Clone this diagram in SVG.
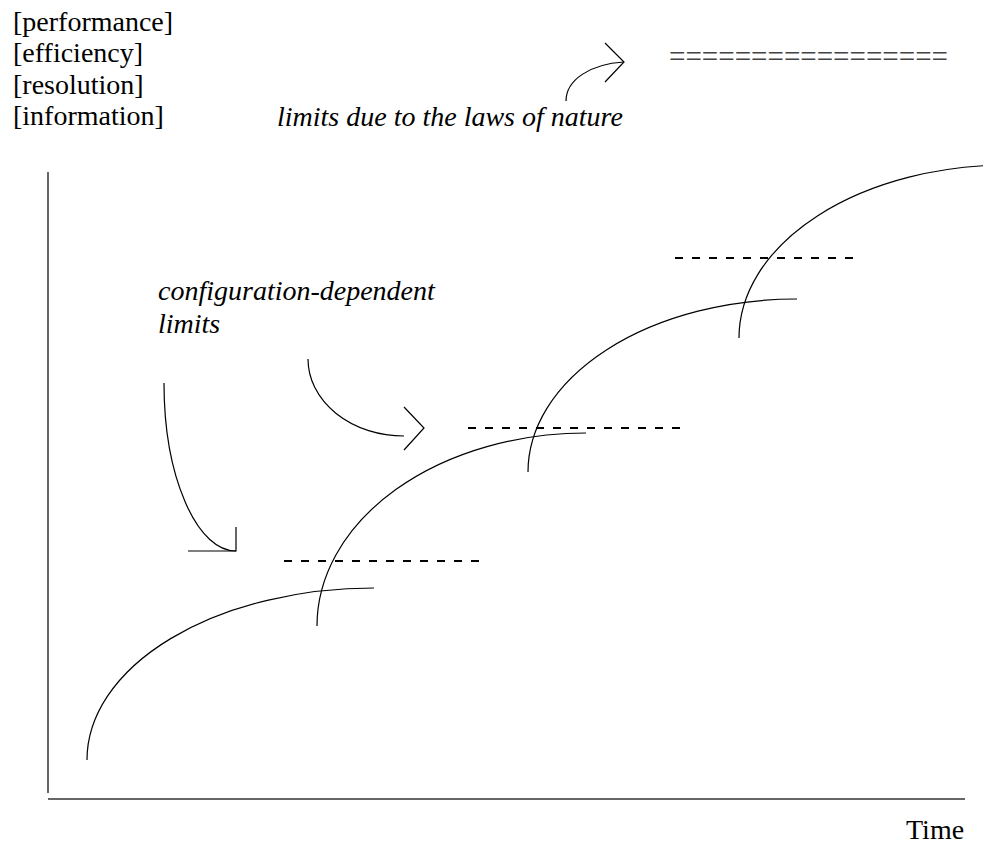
<svg xmlns="http://www.w3.org/2000/svg" width="983" height="848" viewBox="0 0 983 848">
<style>
.t{font-family:"Liberation Serif","Times New Roman",serif;font-size:28px;fill:#000}
.i{font-style:italic}
.ln{fill:none;stroke:#000;stroke-width:1.2}
.ax{fill:none;stroke:#333;stroke-width:1.5}
.ds{fill:none;stroke:#000;stroke-width:2;stroke-dasharray:8 9}
</style>
<rect width="983" height="848" fill="#fff"/>
<g id="ylabel">
<text class="t" x="13" y="31">[performance]</text>
<text class="t" x="13" y="62.3">[efficiency]</text>
<text class="t" x="13" y="93.7">[resolution]</text>
<text class="t" x="13" y="125">[information]</text>
</g>
<g id="nature-label"><text class="t i" x="277" y="126">limits due to the laws of nature</text></g>
<g id="nature-limit"><text class="t" x="669" y="66.5" textLength="279" lengthAdjust="spacingAndGlyphs" style="fill:#444;font-size:32px">=================</text></g>
<g id="config-label">
<text class="t i" x="158" y="300">configuration-dependent</text>
<text class="t i" x="158" y="333">limits</text>
</g>
<g id="xlabel"><text class="t" x="906" y="839">Time</text></g>
<g id="axes">
<line class="ax" x1="48" y1="172" x2="48" y2="793"/>
<line class="ax" x1="48" y1="799" x2="965" y2="799"/>
</g>
<g id="limits">
<line class="ds" x1="284" y1="561" x2="481" y2="561"/>
<line class="ds" x1="468" y1="428" x2="682" y2="428"/>
<line class="ds" x1="675" y1="258" x2="854" y2="258"/>
</g>
<g id="curves">
<path class="ln" d="M87,760 A287,172 0 0 1 374,588"/>
<path class="ln" d="M317,626 A269,193 0 0 1 586,433"/>
<path class="ln" d="M528,472 A269,173 0 0 1 797,299"/>
<path class="ln" d="M739,338 A269,173 0 0 1 1008,165"/>
</g>
<g id="connectors">
<path class="ln" d="M566,101 C566,80 590,64 624,62"/>
<path class="ln" d="M605,43 L624,62 L605,82"/>
<path class="ln" d="M308,359 A96,77 0 0 0 404,436"/>
<path class="ln" d="M404,407 L424,428 L404,450"/>
<path class="ln" d="M164,383 A72,168 0 0 0 236,551"/>
<path class="ln" d="M188,551 L236,551 L236,527"/>
</g>
</svg>
